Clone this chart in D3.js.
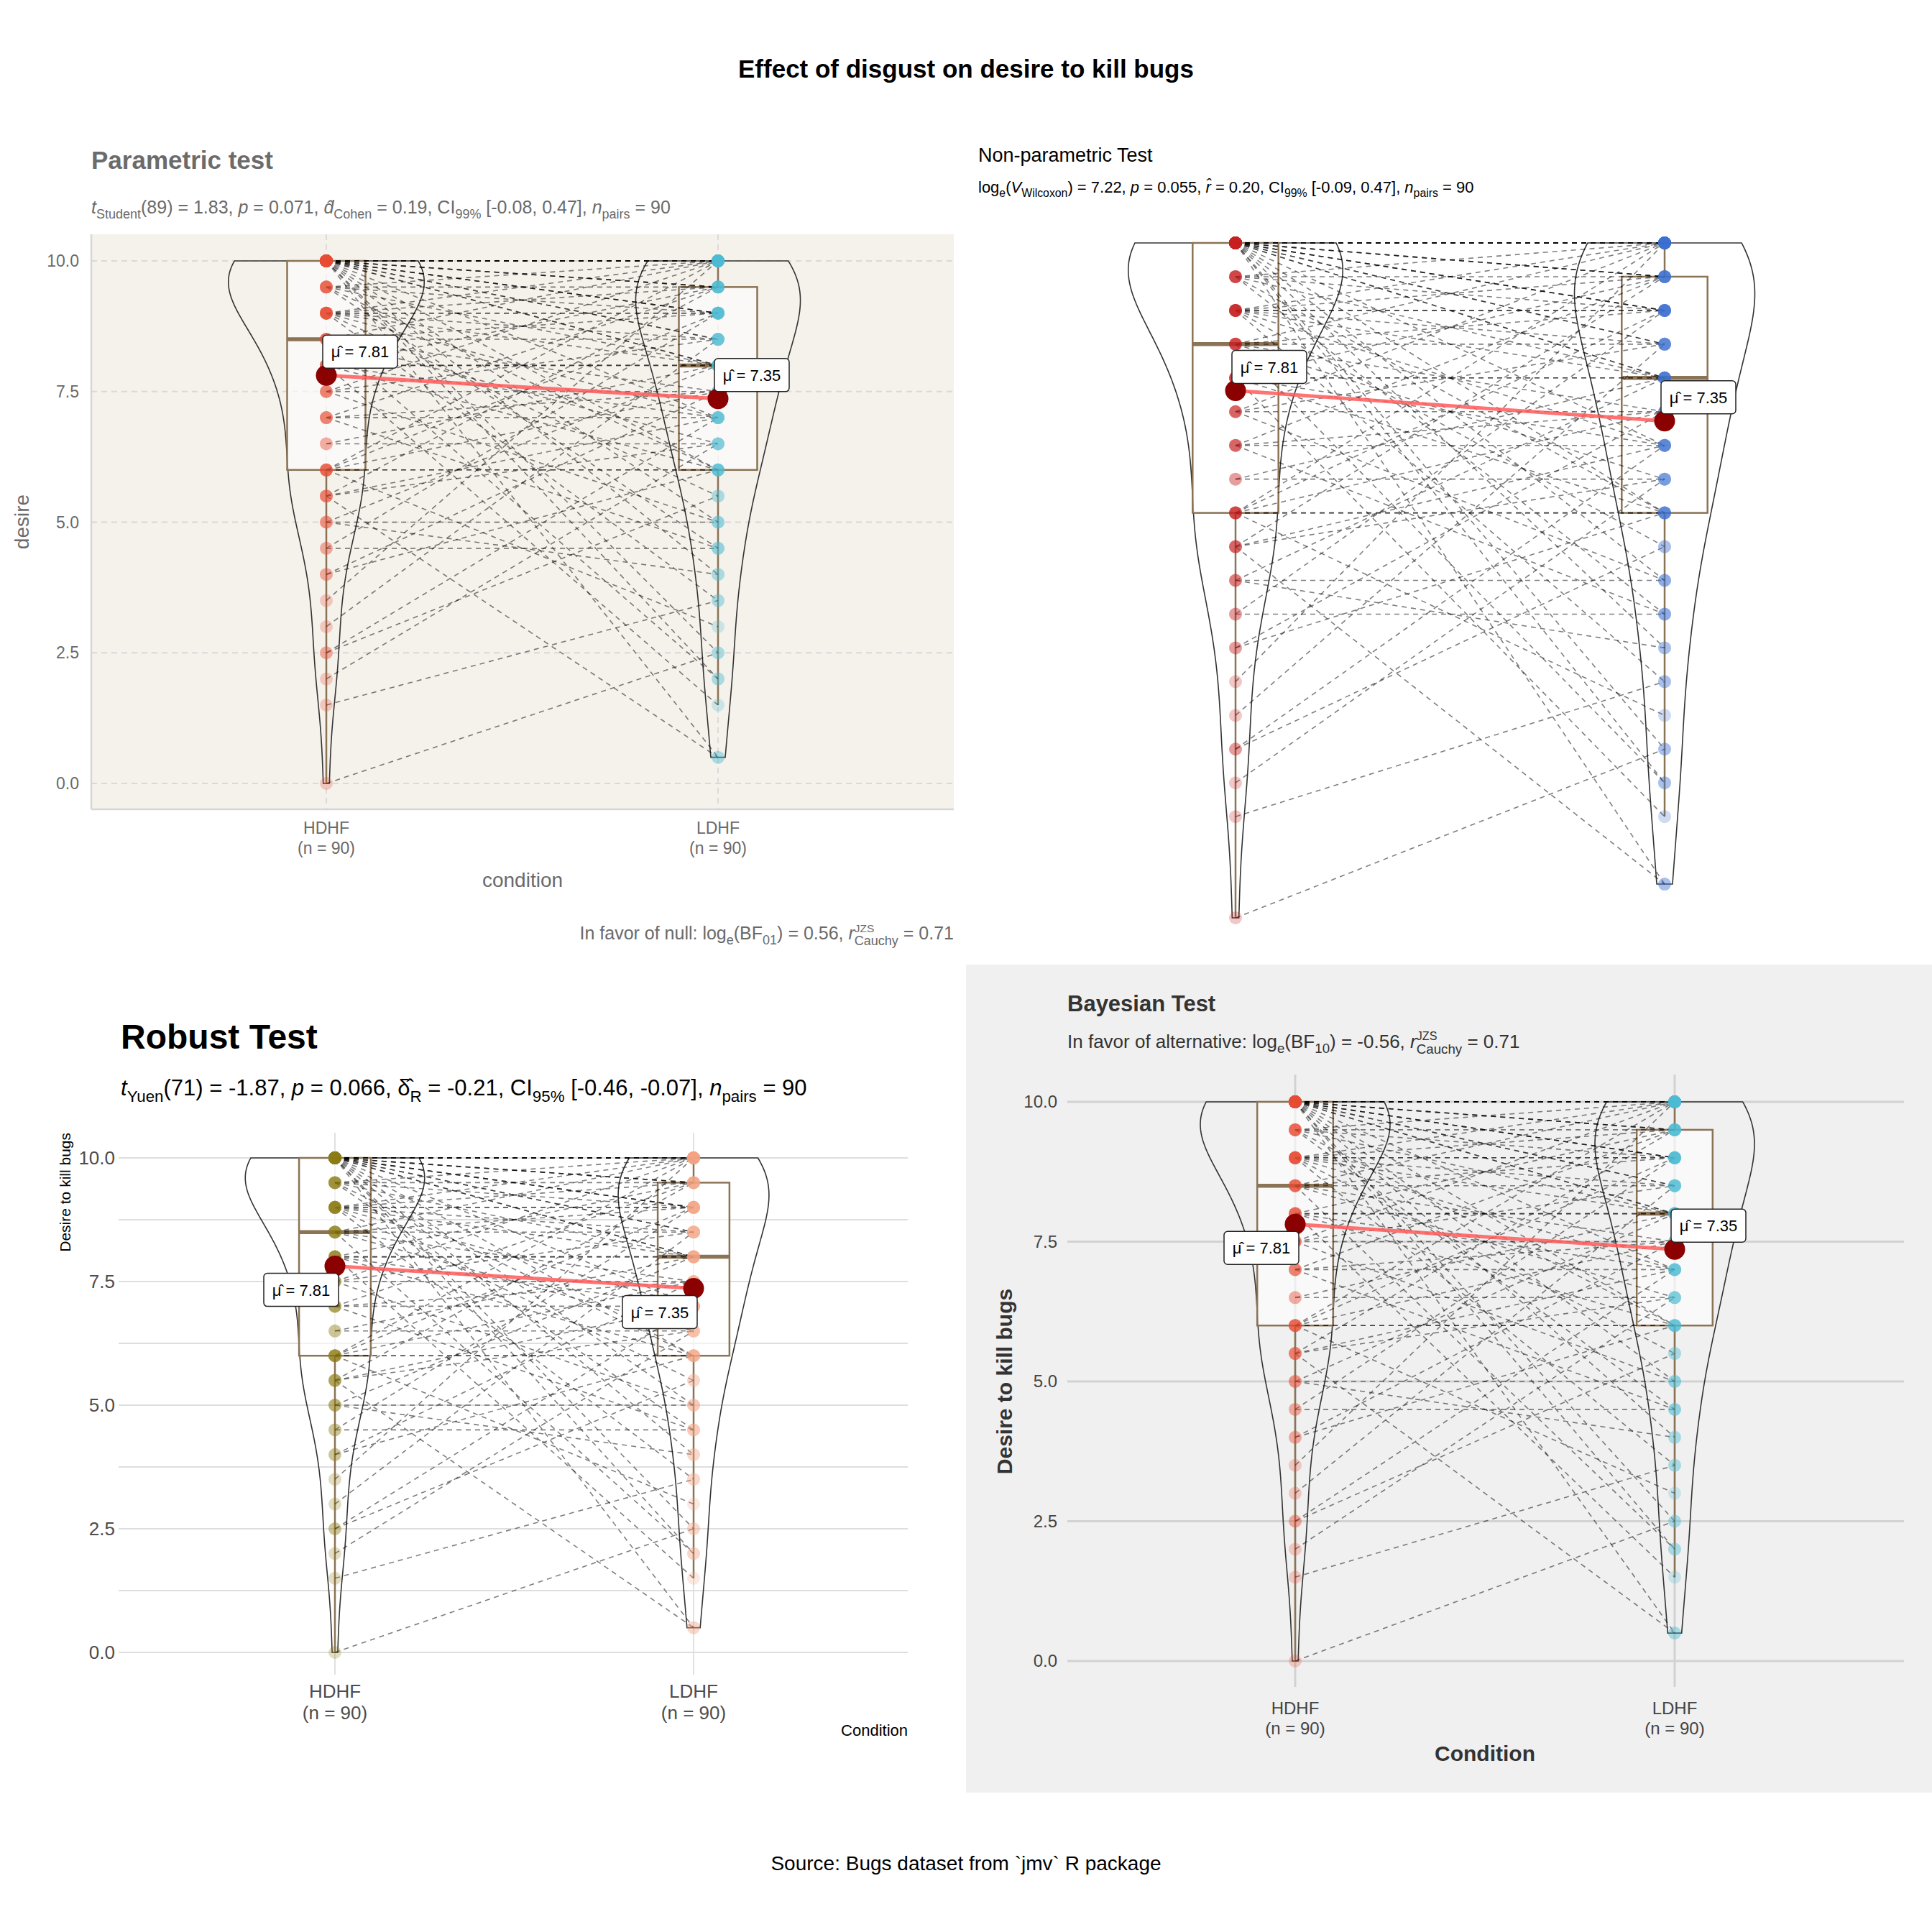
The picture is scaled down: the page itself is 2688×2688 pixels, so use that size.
<!DOCTYPE html>
<html><head><meta charset="utf-8">
<script src="https://cdn.jsdelivr.net/npm/d3@7"></script>
<style>body{margin:0;background:#fff}text{font-family:"Liberation Sans",Arial,sans-serif}</style>
</head><body>
<script>
// paired data: hdhf[i] and ldhf[i] are the same participant
var conditions = ["HDHF", "LDHF"];
var hdhf = [10,10,10,10,10,10,10,10,10,10,10,10,10,10,10,10,10,10,10,10,10,10,10,10,10,10,10,10,10,
  9.5,9.5,9.5,9.5,9.5,9.5, 9,9,9,9,9,9,9,9,9, 8.5,8.5,8.5,8.5,8.5,8.5, 8,8,8,8,8,8,
  7.5,7.5,7.5,7.5, 7,7,7,7, 6.5,6.5, 6,6,6,6,6,6, 5.5,5.5,5.5,5.5, 5,5,5, 4.5,4.5, 4,4,
  3.5, 3, 2.5,2.5, 2, 1.5, 0];
var ldhf = [10,10,10,10,10,10,10,10,10,10,10,10,9.5,9.5,9.5,9,9,9,8.5,8.5,8,8,7,6,5,4,2,0.5,2.5,
  10,9.5,9,8,6,4.5, 10,9.5,9,9,8.5,8,7,5.5,3.5, 10,9,8.5,7.5,6.5,2, 9.5,8,8,7,6,1.5,
  10,8.5,7.5,5, 9.5,7.5,7,4.5, 8,6.5, 10,9,7.5,6,6,3, 9.5,7,6.5,0.5, 8,5,4, 9,4.5, 7.5,6,
  10, 8.5, 7,5.5, 6.5, 3.5, 2.5];
var yTicks = [0, 2.5, 5, 7.5, 10];
var yMinor = [1.25, 3.75, 6.25, 8.75];
var meanLabels = ["7.81", "7.35"];

var W = 2688;
var svg = d3.select("body").append("svg").attr("width", W).attr("height", W);

svg.append("text").attr("x", 1344).attr("y", 108).attr("text-anchor", "middle")
  .attr("font-size", 35).attr("font-weight", "bold").text("Effect of disgust on desire to kill bugs");
svg.append("text").attr("x", 1344).attr("y", 2602).attr("text-anchor", "middle")
  .attr("font-size", 28).text("Source: Bugs dataset from `jmv` R package");

// rich text: segments [kind, text, text2]
function rich(g, x, y, segs, size, color, anchor, weight) {
  var t = g.append("text").attr("x", x).attr("y", y).attr("font-size", size)
    .attr("fill", color).attr("text-anchor", anchor || "start").attr("font-weight", weight || "normal");
  var cur = 0, pendingDx = 0;
  function span(s, shift, fs, italic) {
    var sp = t.append("tspan").attr("dy", shift - cur).text(s).attr("font-size", fs);
    if (pendingDx) { sp.attr("dx", pendingDx); pendingDx = 0; }
    if (italic) sp.attr("font-style", "italic");
    cur = shift;
    return sp;
  }
  segs.forEach(function(sg) {
    var k = sg[0];
    if (k === "n") span(sg[1], 0, size, false);
    else if (k === "i") span(sg[1], 0, size, true);
    else if (k === "sub") span(sg[1], size * 0.28, size * 0.72, false);
    else if (k === "supsub") {
      var a = span(sg[1], -size * 0.42, size * 0.62, false);
      var w1 = a.node().getComputedTextLength();
      var b = span(sg[2], size * 0.3, size * 0.72, false);
      b.attr("dx", -w1);
      var w2 = b.node().getComputedTextLength();
      if (w1 > w2) pendingDx = w1 - w2;
    }
  });
  return t;
}

function kde(values, lo, hi) {
  var n = values.length, mean = d3.mean(values), sd = d3.deviation(values);
  var s = values.slice().sort(d3.ascending);
  var iqr = d3.quantile(s, 0.75) - d3.quantile(s, 0.25);
  var bw = 0.9 * Math.min(sd, iqr / 1.34) * Math.pow(n, -0.2);
  var out = [];
  for (var i = 0; i <= 200; i++) {
    var y = lo + (hi - lo) * i / 200, d = 0;
    values.forEach(function(v) { var u = (y - v) / bw; d += Math.exp(-0.5 * u * u); });
    out.push([y, d / (n * bw * Math.sqrt(2 * Math.PI))]);
  }
  return out;
}

var series = [hdhf, ldhf];
var dens = series.map(function(v) { return kde(v, d3.min(v), d3.max(v)); });
var maxD = d3.max(dens, function(d) { return d3.max(d, function(p) { return p[1]; }); });

function panel(c) {
  var g = svg.append("g");
  var y = d3.scaleLinear().domain([0, 10]).range([c.yb, c.yt]);
  var x = d3.scalePoint().domain(conditions).range(c.cx);
  var sp = c.cx[1] - c.cx[0];
  if (c.bg) g.append("rect").attr("x", c.bg[0]).attr("y", c.bg[1]).attr("width", c.bg[2]).attr("height", c.bg[3]).attr("fill", c.bgFill);
  if (c.grid) {
    var lines = c.minor ? yTicks.concat(yMinor) : yTicks;
    g.selectAll(null).data(lines).enter().append("line")
      .attr("x1", c.gx[0]).attr("x2", c.gx[1]).attr("y1", y).attr("y2", y)
      .attr("stroke", c.gridCol).attr("stroke-width", c.gridW).attr("stroke-dasharray", c.grid === "dashed" ? "8,6" : null);
    g.selectAll(null).data(conditions).enter().append("line")
      .attr("x1", x).attr("x2", x).attr("y1", c.vy[0]).attr("y2", c.vy[1])
      .attr("stroke", c.gridCol).attr("stroke-width", c.gridW).attr("stroke-dasharray", c.grid === "dashed" ? "8,6" : null);
  }
  if (c.axisLines) {
    g.append("line").attr("x1", c.bg[0]).attr("x2", c.bg[0] + c.bg[2]).attr("y1", c.bg[1] + c.bg[3]).attr("y2", c.bg[1] + c.bg[3]).attr("stroke", "#d6d6d6").attr("stroke-width", 2.5);
    g.append("line").attr("x1", c.bg[0]).attr("x2", c.bg[0]).attr("y1", c.bg[1]).attr("y2", c.bg[1] + c.bg[3]).attr("stroke", "#d6d6d6").attr("stroke-width", 2.5);
  }
  if (c.ticks) {
    g.selectAll(null).data(yTicks).enter().append("text")
      .attr("x", c.tickX).attr("y", function(d) { return y(d) + c.tickSize * 0.35; })
      .attr("text-anchor", "end").attr("font-size", c.tickSize).attr("fill", c.tickCol)
      .text(d3.format(".1f"));
    conditions.forEach(function(k) {
      g.append("text").attr("x", x(k)).attr("y", c.xl[0]).attr("text-anchor", "middle")
        .attr("font-size", c.tickSize).attr("fill", c.tickCol).text(k);
      g.append("text").attr("x", x(k)).attr("y", c.xl[1]).attr("text-anchor", "middle")
        .attr("font-size", c.tickSize).attr("fill", c.tickCol).text("(n = 90)");
    });
  }
  // violins
  conditions.forEach(function(k, i) {
    var d = dens[i], cxk = x(k);
    var pts = d.map(function(p) { return [cxk + p[1] / maxD * sp * 0.25, y(p[0])]; })
      .concat(d.slice().reverse().map(function(p) { return [cxk - p[1] / maxD * sp * 0.25, y(p[0])]; }));
    g.append("path").attr("d", d3.line()(pts) + "Z").attr("fill", "none")
      .attr("stroke", "#333").attr("stroke-width", 1.6);
  });
  // boxes
  conditions.forEach(function(k, i) {
    var s = series[i].slice().sort(d3.ascending);
    var q1 = d3.quantile(s, 0.25), q2 = d3.quantile(s, 0.5), q3 = d3.quantile(s, 0.75);
    var lo = d3.min(s.filter(function(v) { return v >= q1 - 1.5 * (q3 - q1); }));
    var hi = d3.max(s.filter(function(v) { return v <= q3 + 1.5 * (q3 - q1); }));
    var cxk = x(k), hw = sp * 0.1, col = "#8b7355";
    g.append("line").attr("x1", cxk).attr("x2", cxk).attr("y1", y(hi)).attr("y2", y(q3)).attr("stroke", col).attr("stroke-width", 2.5);
    g.append("line").attr("x1", cxk).attr("x2", cxk).attr("y1", y(q1)).attr("y2", y(lo)).attr("stroke", col).attr("stroke-width", 2.5);
    g.append("rect").attr("x", cxk - hw).attr("y", y(q3)).attr("width", 2 * hw).attr("height", y(q1) - y(q3))
      .attr("fill", "#fff").attr("fill-opacity", 0.6).attr("stroke", col).attr("stroke-width", 2.5);
    g.append("line").attr("x1", cxk - hw).attr("x2", cxk + hw).attr("y1", y(q2)).attr("y2", y(q2)).attr("stroke", col).attr("stroke-width", 5.5);
  });
  // paired paths
  g.selectAll(null).data(d3.range(hdhf.length)).enter().append("line")
    .attr("x1", x("HDHF")).attr("x2", x("LDHF"))
    .attr("y1", function(i) { return y(hdhf[i]); }).attr("y2", function(i) { return y(ldhf[i]); })
    .attr("stroke", "#000").attr("stroke-opacity", 0.5).attr("stroke-width", 1.6).attr("stroke-dasharray", "7,6");
  // points
  conditions.forEach(function(k, i) {
    g.selectAll(null).data(series[i]).enter().append("circle")
      .attr("cx", x(k)).attr("cy", y).attr("r", 9)
      .attr("fill", c.cols[i]).attr("fill-opacity", 0.25);
  });
  // means
  var means = series.map(function(v) { return d3.mean(v); });
  g.append("line").attr("x1", x("HDHF")).attr("x2", x("LDHF")).attr("y1", y(means[0])).attr("y2", y(means[1]))
    .attr("stroke", "#ff5a5a").attr("stroke-opacity", 0.85).attr("stroke-width", 5);
  conditions.forEach(function(k, i) {
    var px = x(k), py = y(means[i]), o = c.lab[i];
    var lx = px + o[0] * 47, ly = py + o[1] * 33;
    g.append("line").attr("x1", px).attr("y1", py).attr("x2", px + o[0] * 14).attr("y2", py + o[1] * 12).attr("stroke", "#000").attr("stroke-width", 1.5);
    g.append("circle").attr("cx", px).attr("cy", py).attr("r", 14.5).attr("fill", "#8b0000");
    g.append("rect").attr("x", lx - 52).attr("y", ly - 23).attr("width", 104).attr("height", 46).attr("rx", 5)
      .attr("fill", "#fff").attr("stroke", "#222").attr("stroke-width", 1.5);
    g.append("text").attr("x", lx).attr("y", ly + 8).attr("text-anchor", "middle").attr("font-size", 22)
      .text("μ\u0302 = " + meanLabels[i]);
  });
  return { g: g, y: y };
}

// ---- panel 1: parametric
var p1 = panel({ yt: 363, yb: 1090, cx: [454, 999], bg: [127, 326, 1200, 800], bgFill: "#f5f1eb", axisLines: true,
  grid: "dashed", gx: [127, 1327], vy: [326, 1126], gridCol: "#d9d9d9", gridW: 1.8,
  ticks: true, tickX: 110, tickSize: 23, tickCol: "#6a6a6a", xl: [1160, 1188],
  cols: ["#E64B35", "#4DBBD5"], lab: [[1, -1], [1, -1]] });
svg.append("text").attr("x", 127).attr("y", 235).attr("font-size", 35).attr("font-weight", "bold").attr("fill", "#6b6b6b").text("Parametric test");
rich(svg, 127, 297, [["i", "t"], ["sub", "Student"], ["n", "(89) = 1.83, "], ["i", "p"], ["n", " = 0.071, "], ["i", "d\u0302"], ["sub", "Cohen"],
  ["n", " = 0.19, CI"], ["sub", "99%"], ["n", " [-0.08, 0.47], "], ["i", "n"], ["sub", "pairs"], ["n", " = 90"]], 25, "#6a6a6a");
svg.append("text").attr("x", 727).attr("y", 1234).attr("text-anchor", "middle").attr("font-size", 28).attr("fill", "#6a6a6a").text("condition");
svg.append("text").attr("transform", "translate(40,726) rotate(-90)").attr("text-anchor", "middle").attr("font-size", 28).attr("fill", "#6a6a6a").text("desire");
rich(svg, 1327, 1307, [["n", "In favor of null: log"], ["sub", "e"], ["n", "(BF"], ["sub", "01"], ["n", ") = 0.56, "], ["i", "r"],
  ["supsub", "JZS", "Cauchy"], ["n", " = 0.71"]], 25, "#6a6a6a", "end");

// ---- panel 2: non-parametric
panel({ yt: 338, yb: 1277, cx: [1719, 2316], cols: ["#C8201F", "#3B6FD0"], lab: [[1, -1], [1, -1]] });
svg.append("text").attr("x", 1361).attr("y", 225).attr("font-size", 27).text("Non-parametric Test");
rich(svg, 1361, 268, [["n", "log"], ["sub", "e"], ["n", "("], ["i", "V"], ["sub", "Wilcoxon"], ["n", ") = 7.22, "], ["i", "p"], ["n", " = 0.055, "],
  ["i", "r\u0302"], ["n", " = 0.20, CI"], ["sub", "99%"], ["n", " [-0.09, 0.47], "], ["i", "n"], ["sub", "pairs"], ["n", " = 90"]], 22, "#000");

// ---- panel 3: robust
panel({ yt: 1611, yb: 2299, cx: [466, 965], grid: "solid", minor: true, gx: [165, 1263], vy: [1576, 2330], gridCol: "#dedede", gridW: 1.8,
  ticks: true, tickX: 160, tickSize: 26, tickCol: "#4d4d4d", xl: [2362, 2392],
  cols: ["#8A7A12", "#F4A582"], lab: [[-1, 1], [-1, 1]] });
svg.append("text").attr("x", 168).attr("y", 1459).attr("font-size", 48).attr("font-weight", "bold").text("Robust Test");
rich(svg, 168, 1524, [["i", "t"], ["sub", "Yuen"], ["n", "(71) = -1.87, "], ["i", "p"], ["n", " = 0.066, "], ["n", "δ\u0302"], ["sub", "R"],
  ["n", " = -0.21, CI"], ["sub", "95%"], ["n", " [-0.46, -0.07], "], ["i", "n"], ["sub", "pairs"], ["n", " = 90"]], 31, "#000");
svg.append("text").attr("transform", "translate(98,1576) rotate(-90)").attr("text-anchor", "end").attr("font-size", 21).text("Desire to kill bugs");
svg.append("text").attr("x", 1263).attr("y", 2415).attr("text-anchor", "end").attr("font-size", 22).text("Condition");

// ---- panel 4: bayesian
panel({ yt: 1533, yb: 2311, cx: [1802, 2330], bg: [1344, 1342, 1344, 1152], bgFill: "#f0f0f0",
  grid: "solid", gx: [1485, 2649], vy: [1495, 2347], gridCol: "#d2d2d2", gridW: 3,
  ticks: true, tickX: 1471, tickSize: 24, tickCol: "#444", xl: [2385, 2413],
  cols: ["#E64B35", "#4DBBD5"], lab: [[-1, 1], [1, -1]] });
svg.append("text").attr("x", 1485).attr("y", 1407).attr("font-size", 31).attr("font-weight", "bold").attr("fill", "#333").text("Bayesian Test");
rich(svg, 1485, 1458, [["n", "In favor of alternative: log"], ["sub", "e"], ["n", "(BF"], ["sub", "10"], ["n", ") = -0.56, "], ["i", "r"],
  ["supsub", "JZS", "Cauchy"], ["n", " = 0.71"]], 26, "#333");
svg.append("text").attr("x", 2066).attr("y", 2450).attr("text-anchor", "middle").attr("font-size", 30).attr("font-weight", "bold").attr("fill", "#333").text("Condition");
svg.append("text").attr("transform", "translate(1408,1922) rotate(-90)").attr("text-anchor", "middle").attr("font-size", 30).attr("font-weight", "bold").attr("fill", "#333").text("Desire to kill bugs");
</script>
</body></html>
